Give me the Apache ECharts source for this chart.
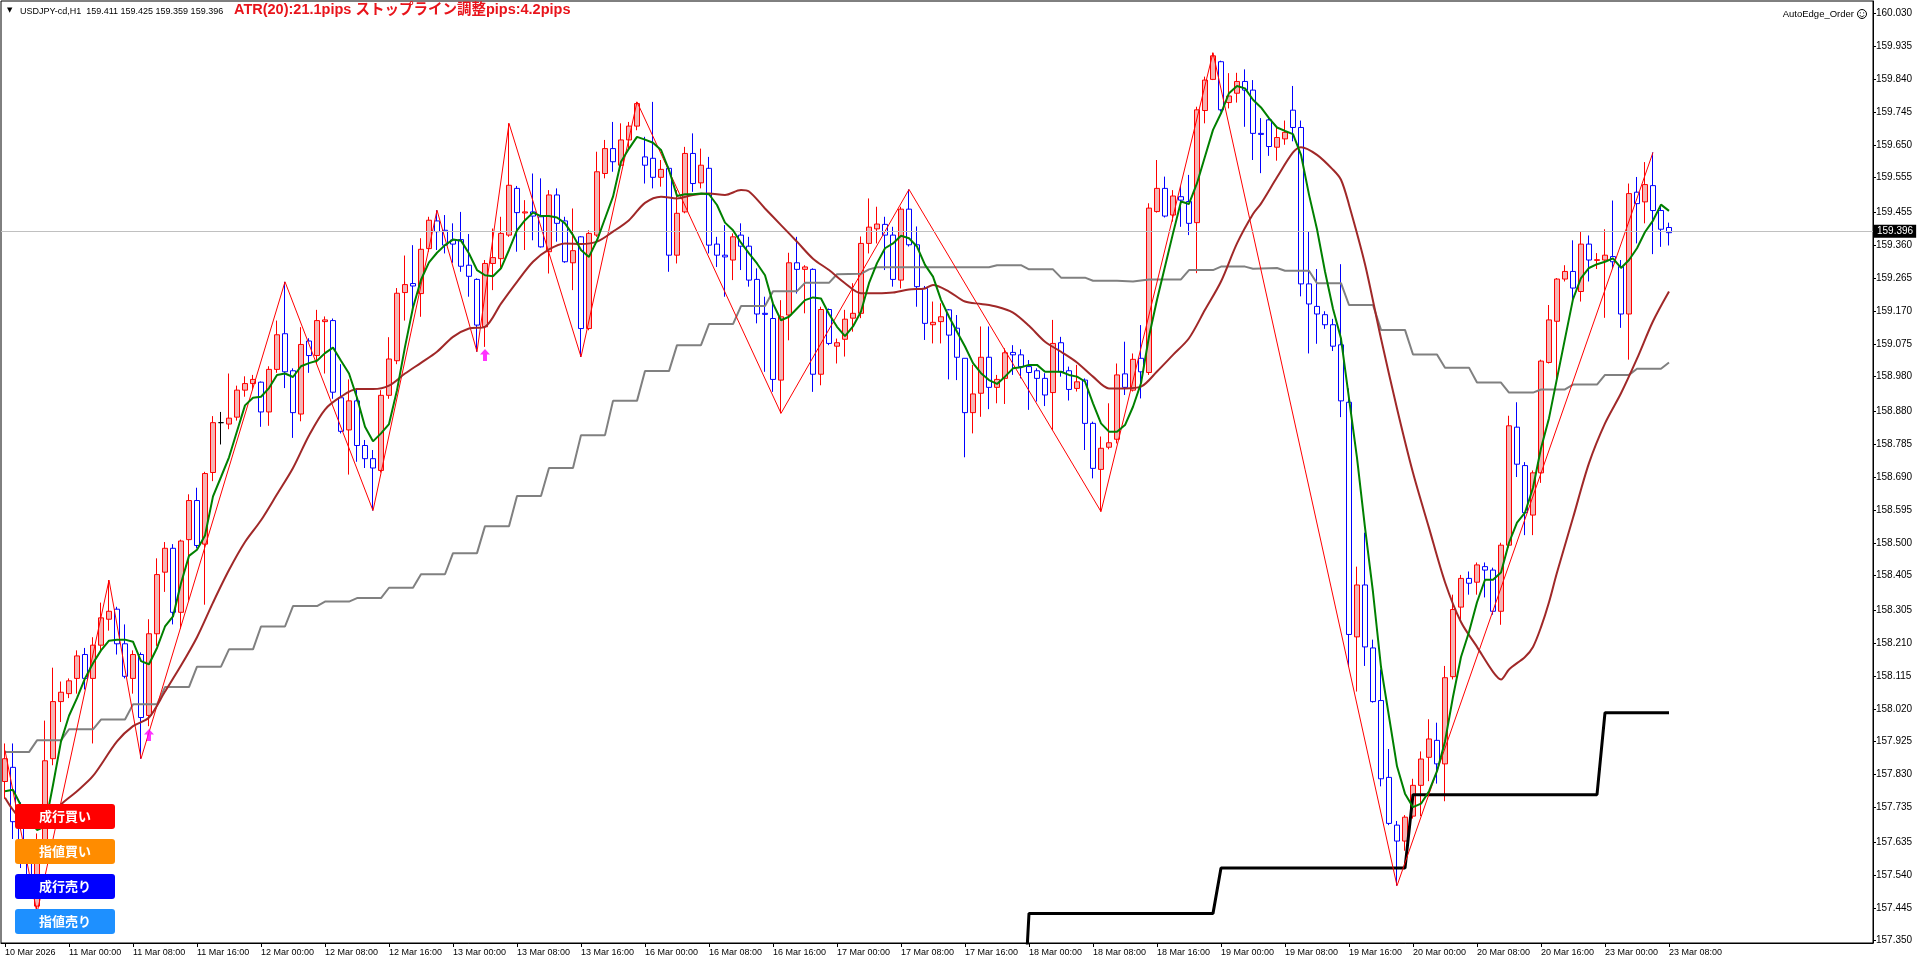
<!DOCTYPE html>
<html>
<head>
<meta charset="utf-8">
<script src="https://cdn.jsdelivr.net/npm/echarts@6/dist/echarts.min.js"></script>
<style>
  html, body { margin: 0; padding: 0; background: #fff; }
  #chart { width: 1920px; height: 967px; }
</style>
</head>
<body>
<div id="chart"></div>
<script>
// time axis labels, one every 8 bars (H1)
const timeLabels = ['10 Mar 2026','11 Mar 00:00','11 Mar 08:00','11 Mar 16:00','12 Mar 00:00','12 Mar 08:00','12 Mar 16:00',
  '13 Mar 00:00','13 Mar 08:00','13 Mar 16:00','16 Mar 00:00','16 Mar 08:00','16 Mar 16:00','17 Mar 00:00','17 Mar 08:00',
  '17 Mar 16:00','18 Mar 00:00','18 Mar 08:00','18 Mar 16:00','19 Mar 00:00','19 Mar 08:00','19 Mar 16:00','20 Mar 00:00',
  '20 Mar 08:00','20 Mar 16:00','23 Mar 00:00','23 Mar 08:00'];

const yTicks = [157.350,157.445,157.540,157.635,157.735,157.830,157.925,158.020,158.115,158.210,158.305,158.405,158.500,
  158.595,158.690,158.785,158.880,158.980,159.075,159.170,159.265,159.360,159.455,159.555,159.650,159.745,159.840,159.935,160.030];

const opens = [
  157.810,157.851,157.694,157.600,157.450,157.620,157.876,158.041,158.064,158.108,
  158.177,158.108,158.204,158.279,158.308,158.208,158.108,158.177,158.001,158.237,
  158.415,158.484,158.299,158.509,158.622,158.496,158.703,158.847,158.843,158.863,
  158.941,158.960,158.964,158.878,159.001,159.104,158.997,158.872,159.083,159.041,
  159.139,159.142,158.919,158.826,158.910,158.781,158.743,158.709,158.926,159.026,
  159.223,159.249,159.220,159.350,159.430,159.403,159.375,159.376,159.302,159.261,
  159.124,159.307,159.321,159.389,159.524,159.453,159.456,159.442,159.341,159.505,
  159.430,159.309,159.384,159.119,159.389,159.567,159.639,159.591,159.664,159.704,
  159.615,159.611,159.556,159.582,159.331,159.456,159.625,159.540,159.582,159.363,
  159.331,159.317,159.389,159.357,159.261,159.163,159.148,158.970,159.158,159.309,
  159.290,159.290,158.987,159.174,159.068,159.088,159.149,159.163,159.365,159.407,
  159.420,159.389,159.259,159.464,159.361,159.235,159.130,159.139,159.173,159.120,
  159.033,158.876,158.932,159.036,158.949,158.975,159.050,159.043,159.009,158.997,
  158.975,158.934,159.078,158.997,158.946,158.970,158.845,158.712,158.776,158.799,
  158.988,158.941,159.033,158.992,159.457,159.524,159.447,159.500,159.486,159.425,
  159.749,159.839,159.890,159.772,159.799,159.833,159.808,159.683,159.722,159.643,
  159.667,159.750,159.700,159.248,159.183,159.159,159.130,159.072,158.906,158.228,
  158.378,158.196,158.044,157.822,157.684,157.638,157.710,157.799,157.880,157.929,
  157.861,158.113,158.314,158.397,158.386,158.431,158.421,158.302,158.493,158.834,
  158.723,158.580,158.702,159.021,159.140,159.262,159.284,159.226,159.363,159.316,
  159.317,159.327,159.298,159.161,159.513,159.485,159.532,159.460,159.411];

const highs = [
  157.920,157.920,157.750,157.640,157.660,157.986,158.139,158.099,158.108,158.189,
  158.196,158.227,158.327,158.392,158.315,158.264,158.189,158.183,158.279,158.455,
  158.502,158.496,158.509,158.640,158.659,158.705,158.866,158.878,158.989,158.954,
  158.981,158.985,158.966,159.010,159.142,159.254,159.004,159.123,159.091,159.173,
  159.154,159.148,159.016,158.972,158.947,158.797,158.768,158.941,159.094,159.236,
  159.330,159.360,159.380,159.442,159.461,159.447,159.423,159.456,159.392,159.264,
  159.317,159.408,159.442,159.712,159.531,159.490,159.567,159.553,159.519,159.524,
  159.442,159.466,159.386,159.403,159.630,159.664,159.716,159.712,159.716,159.774,
  159.673,159.774,159.606,159.587,159.519,159.644,159.683,159.639,159.615,159.384,
  159.418,159.394,159.423,159.384,159.293,159.211,159.191,159.201,159.338,159.384,
  159.302,159.293,159.182,159.177,159.090,159.173,159.250,159.385,159.495,159.471,
  159.442,159.413,159.471,159.521,159.414,159.242,159.197,159.192,159.175,159.158,
  159.033,159.014,159.125,159.125,158.985,159.062,159.071,159.059,159.028,159.004,
  158.990,159.144,159.095,159.009,159.014,158.975,158.850,158.807,158.903,159.018,
  159.081,159.047,159.129,159.481,159.606,159.558,159.519,159.531,159.563,159.760,
  159.847,159.916,159.893,159.857,159.858,159.868,159.837,159.727,159.730,159.700,
  159.720,159.820,159.720,159.398,159.291,159.169,159.147,159.305,158.946,158.431,
  158.529,158.220,158.134,157.904,157.696,157.713,157.818,157.897,157.990,157.980,
  158.144,158.350,158.407,158.417,158.443,158.443,158.428,158.500,158.867,158.906,
  158.733,158.709,159.029,159.187,159.265,159.302,159.374,159.398,159.388,159.337,
  159.406,159.489,159.317,159.538,159.557,159.600,159.628,159.470,159.425];

const lows = [
  157.760,157.644,157.560,157.480,157.430,157.600,157.857,157.982,158.051,158.064,
  158.076,157.920,158.189,158.246,158.177,158.108,158.064,157.876,157.970,158.202,
  158.358,158.264,158.252,158.333,158.484,158.321,158.678,158.784,158.828,158.853,
  158.922,158.941,158.835,158.838,158.991,158.947,158.803,158.851,158.991,159.016,
  158.989,158.916,158.816,158.697,158.734,158.716,158.593,158.703,158.916,159.016,
  159.142,159.169,159.153,159.341,159.346,159.336,159.309,159.283,159.211,159.052,
  159.066,159.230,159.288,159.384,159.341,159.346,159.374,159.353,159.278,159.370,
  159.309,159.230,159.037,159.114,159.384,159.553,159.572,159.586,159.639,159.692,
  159.538,159.524,159.529,159.283,159.307,159.452,159.514,159.524,159.336,159.297,
  159.211,159.259,159.288,159.240,159.134,158.994,158.936,158.874,159.085,159.220,
  159.163,158.936,158.955,159.071,159.018,159.038,159.110,159.149,159.336,159.365,
  159.288,159.240,159.235,159.356,159.182,159.086,159.076,159.076,158.972,158.970,
  158.747,158.816,158.864,158.886,158.903,158.901,158.985,158.975,158.884,158.908,
  158.895,158.826,158.980,158.911,158.937,158.768,158.686,158.590,158.770,158.787,
  158.927,158.937,158.917,158.985,159.454,159.440,159.428,159.413,159.389,159.279,
  159.712,159.837,159.746,159.755,159.772,159.702,159.606,159.568,159.618,159.604,
  159.650,159.660,159.212,159.047,159.075,159.118,159.054,158.863,158.141,158.070,
  158.144,158.038,157.796,157.684,157.509,157.610,157.703,157.710,157.811,157.804,
  157.753,158.105,158.278,158.350,158.350,158.342,158.292,158.263,158.486,158.690,
  158.522,158.522,158.673,159.018,158.975,159.255,159.197,159.197,159.255,159.291,
  159.150,159.291,159.121,159.029,159.365,159.423,159.334,159.355,159.359];

const closes = [
  157.876,157.694,157.600,157.520,157.620,157.870,158.041,158.068,158.101,158.173,
  158.108,158.204,158.283,158.302,158.208,158.114,158.177,157.995,158.237,158.408,
  158.484,158.299,158.505,158.622,158.492,158.700,158.847,158.847,158.860,158.941,
  158.960,158.972,158.878,159.001,159.101,158.994,158.876,159.073,159.041,159.142,
  159.144,158.935,158.822,158.910,158.781,158.743,158.716,158.926,159.031,159.221,
  159.246,159.242,159.348,159.432,159.399,159.360,159.363,159.299,159.270,159.129,
  159.307,159.324,159.394,159.533,159.454,159.456,159.444,159.355,159.505,159.423,
  159.312,159.344,159.119,159.394,159.572,159.639,159.601,159.664,159.704,159.769,
  159.591,159.556,159.579,159.331,159.452,159.625,159.538,159.591,159.360,159.331,
  159.326,159.384,159.357,159.259,159.161,159.160,158.972,159.153,159.309,159.290,
  159.297,158.987,159.174,159.076,159.078,159.146,159.163,159.365,159.412,159.421,
  159.389,159.261,159.464,159.361,159.240,159.134,159.137,159.153,159.100,159.036,
  158.876,158.930,159.036,158.949,158.972,159.049,159.043,159.009,158.992,158.975,
  158.927,159.076,158.994,158.943,158.965,158.845,158.715,158.773,158.789,158.985,
  158.949,159.030,158.994,159.467,159.524,159.444,159.502,159.490,159.423,159.751,
  159.837,159.907,159.751,159.791,159.833,159.808,159.683,159.680,159.645,159.671,
  159.686,159.700,159.248,159.190,159.161,159.130,159.068,158.910,158.235,158.378,
  158.199,158.041,157.818,157.689,157.638,157.707,157.799,157.875,157.933,157.861,
  158.110,158.307,158.397,158.383,158.436,158.421,158.302,158.493,158.838,158.727,
  158.587,158.702,159.025,159.144,159.262,159.284,159.236,159.363,159.317,159.318,
  159.331,159.312,159.161,159.509,159.480,159.535,159.460,159.406,159.396];

// fast MA (green), one value per bar
const fastMA = [
  157.782,157.786,157.740,157.700,157.670,157.680,157.800,157.926,158.000,158.051,
  158.108,158.152,158.189,158.217,158.220,158.220,158.214,158.158,158.149,158.196,
  158.258,158.287,158.383,158.462,158.480,158.521,158.634,158.690,158.747,158.822,
  158.897,158.919,158.922,158.947,158.985,158.989,158.979,159.010,159.019,159.026,
  159.048,159.064,159.026,158.989,158.919,158.835,158.793,158.816,158.843,158.941,
  159.066,159.180,159.260,159.310,159.338,159.360,159.376,159.373,159.336,159.288,
  159.273,159.270,159.293,159.346,159.403,159.432,159.454,159.444,159.444,159.440,
  159.423,159.389,159.346,159.326,159.374,159.437,159.500,159.601,159.639,159.673,
  159.665,159.656,159.635,159.577,159.502,159.507,159.507,159.509,159.507,159.476,
  159.425,159.403,159.367,159.336,159.307,159.273,159.191,159.143,159.153,159.177,
  159.201,159.209,159.206,159.161,159.124,159.097,159.125,159.168,159.250,159.308,
  159.351,159.365,159.387,159.380,159.356,159.303,159.269,159.202,159.153,159.110,
  159.067,159.019,158.990,158.970,158.959,158.980,159.004,159.007,159.014,159.014,
  158.994,158.994,158.994,158.985,158.980,158.966,158.903,158.845,158.821,158.821,
  158.840,158.893,158.961,159.096,159.202,159.298,159.394,159.486,159.479,159.539,
  159.616,159.693,159.741,159.799,159.820,159.813,159.780,159.758,159.727,159.700,
  159.690,159.681,159.621,159.506,159.406,159.284,159.176,159.090,158.917,158.745,
  158.544,158.357,158.141,157.998,157.854,157.775,157.736,157.746,157.782,157.840,
  157.926,158.055,158.170,158.242,158.328,158.393,158.393,158.414,158.500,158.558,
  158.587,158.659,158.773,158.860,158.975,159.090,159.204,159.265,159.294,159.305,
  159.312,159.322,159.294,159.317,159.351,159.398,159.431,159.477,159.459];

// slow MA (dark red), [bar, price]
const slowMA = [[0,157.763],[1,157.728],[3,157.680],[5,157.690],[7,157.744],[9,157.782],[11,157.826],[14,157.926],
  [16,157.970],[18,157.995],[20,158.070],[22,158.145],[24,158.227],[26,158.327],[28,158.421],[30,158.502],[32,158.565],
  [34,158.640],[36,158.716],[38,158.810],[40,158.885],[42,158.922],[44,158.944],[46,158.944],[48,158.954],[50,158.989],
  [52,159.020],[54,159.052],[56,159.095],[58,159.119],[60,159.124],[62,159.191],[64,159.254],[66,159.312],[68,159.348],
  [70,159.365],[72,159.363],[74,159.370],[76,159.399],[78,159.432],[80,159.482],[82,159.500],[84,159.495],[86,159.505],
  [88,159.509],[90,159.505],[92,159.519],[93,159.515],[95,159.466],[97,159.418],[99,159.370],[101,159.321],[103,159.288],
  [105,159.250],[107,159.221],[109,159.221],[111,159.223],[113,159.232],[115,159.235],[116,159.245],[118,159.226],
  [120,159.197],[122,159.190],[124,159.182],[126,159.165],[128,159.127],[130,159.081],[132,159.052],[134,159.021],
  [136,158.980],[138,158.946],[140,158.946],[142,158.951],[144,158.995],[146,159.043],[148,159.091],[150,159.173],
  [152,159.255],[154,159.365],[156,159.450],[157,159.480],[159,159.556],[161,159.628],[162,159.643],[164,159.621],
  [166,159.578],[167,159.549],[168,159.477],[170,159.305],[172,159.090],[174,158.888],[176,158.702],[178,158.543],
  [180,158.386],[182,158.271],[184,158.199],[186,158.127],[187,158.105],[188,158.134],[190,158.170],[191,158.199],
  [192,158.256],[193,158.328],[194,158.414],[196,158.572],[198,158.730],[200,158.845],[202,158.932],[204,159.032],
  [206,159.140],[208,159.226]];

// higher timeframe MA (gray steps), [bar, price]
const grayLine = [[0,157.895],[3,157.895],[4,157.929],[7,157.929],[8,157.961],[11,157.961],[12,157.989],[15,157.989],
  [16,158.033],[19,158.033],[20,158.083],[23,158.083],[24,158.142],[27,158.142],[28,158.192],[31,158.192],[32,158.258],
  [35,158.258],[36,158.317],[39,158.317],[40,158.330],[43,158.330],[44,158.340],[47,158.340],[48,158.370],[51,158.370],
  [52,158.409],[55,158.409],[56,158.470],[59,158.470],[60,158.548],[63,158.548],[64,158.635],[67,158.635],[68,158.716],
  [71,158.716],[72,158.811],[75,158.811],[76,158.910],[79,158.910],[80,158.996],[83,158.996],[84,159.071],[87,159.071],
  [88,159.132],[91,159.132],[92,159.184],[95,159.184],[96,159.227],[99,159.227],[100,159.251],[103,159.251],[104,159.276],
  [107,159.277],[108,159.290],[109,159.296],[123,159.296],[124,159.302],[127,159.302],[128,159.290],[131,159.290],
  [132,159.266],[135,159.266],[136,159.257],[139,159.257],[141,159.255],[143,159.261],[147,159.261],[148,159.288],
  [151,159.288],[152,159.298],[155,159.298],[156,159.292],[159,159.294],[160,159.286],[163,159.286],[164,159.250],
  [167,159.250],[168,159.187],[171,159.187],[172,159.115],[175,159.115],[176,159.044],[179,159.044],[180,159.006],
  [183,159.006],[184,158.963],[187,158.963],[188,158.934],[191,158.934],[192,158.943],[195,158.943],[196,158.957],
  [199,158.957],[200,158.985],[203,158.985],[204,159.003],[207,159.003],[208,159.021]];

// stop line (black steps), [bar, price]
const stopLine = [[127,157.000],[128,157.429],[151,157.429],[152,157.560],[175,157.560],[176,157.772],[199,157.772],
  [200,158.009],[208,158.009]];

// zigzag swing points, [bar, price]
const zigzag = [[0,157.900],[4,157.430],[13,158.392],[17,157.876],[35,159.254],[46,158.593],[54,159.461],[59,159.052],
  [63,159.712],[72,159.037],[79,159.774],[97,158.874],[113,159.521],[137,158.590],[151,159.916],[174,157.509],[206,159.628]];

// buy signal arrows, [bar, price]
const arrows = [[18,157.962],[60,159.060]];

const lastPrice = 159.396;

const slotCount = 234;
const slots = [];
for (let i = 0; i < slotCount; i++) slots.push(i);
const candles = opens.map((o, i) => [o, closes[i], lows[i], highs[i]]);
const showTick = (i) => i % 8 === 0 && i <= 208;

const buttons = [
  { text: '成行買い', color: '#ff0000', top: 804 },
  { text: '指値買い', color: '#ff8c00', top: 839 },
  { text: '成行売り', color: '#0000ff', top: 874 },
  { text: '指値売り', color: '#1e90ff', top: 909 }
];

const chart = echarts.init(document.getElementById('chart'));

const graphics = [
  { type: 'text', z: 100, style: { x: 7, y: 7, text: '▼', font: '7px "DejaVu Sans"', fill: '#000' } },
  { type: 'text', z: 100, style: { x: 20, y: 7, text: 'USDJPY-cd,H1  159.411 159.425 159.359 159.396', font: '9px "Liberation Sans"', fill: '#000' } },
  { type: 'text', z: 100, style: { x: 234, y: 3, text: 'ATR(20):21.1pips ストップライン調整pips:4.2pips', font: 'bold 14.5px "Liberation Sans", "Noto Sans CJK JP"', fill: '#e8141b' } },
  { type: 'text', z: 100, style: { x: 1854, y: 9, text: 'AutoEdge_Order', align: 'right', font: '9.5px "Liberation Sans"', fill: '#000' } },
  { type: 'circle', z: 100, shape: { cx: 1862, cy: 14, r: 4.5 }, style: { fill: 'none', stroke: '#000', lineWidth: 1 } },
  { type: 'circle', z: 100, shape: { cx: 1860.3, cy: 12.8, r: 0.6 }, style: { fill: '#000' } },
  { type: 'circle', z: 100, shape: { cx: 1863.7, cy: 12.8, r: 0.6 }, style: { fill: '#000' } },
  { type: 'arc', z: 100, shape: { cx: 1862, cy: 14.5, r: 2.2, startAngle: 0.3, endAngle: Math.PI - 0.3 }, style: { stroke: '#000', fill: 'none', lineWidth: 0.8 } }
];
buttons.forEach(b => {
  graphics.push({ type: 'rect', z: 100, shape: { x: 15, y: b.top, width: 100, height: 25, r: 3 }, style: { fill: b.color } });
  graphics.push({ type: 'text', z: 101, style: { x: 65, y: b.top + 12.5, text: b.text, align: 'center', verticalAlign: 'middle',
    font: 'bold 13px "Noto Sans CJK JP"', fill: '#fff' } });
});

chart.setOption({
  animation: false,
  backgroundColor: '#fff',
  grid: { left: 1, right: 47, top: 1, bottom: 24, show: true, borderColor: '#000', borderWidth: 1, backgroundColor: '#fff' },
  xAxis: {
    type: 'category',
    data: slots,
    boundaryGap: true,
    axisLine: { show: true, lineStyle: { color: '#000', width: 1 } },
    axisTick: { show: true, alignWithLabel: true, interval: showTick, length: 4, lineStyle: { color: '#000' } },
    axisLabel: {
      interval: showTick,
      formatter: (v, i) => timeLabels[i / 8] || '',
      align: 'left', margin: 5, color: '#000', fontSize: 9, fontFamily: 'Liberation Sans'
    },
    splitLine: { show: false }
  },
  yAxis: {
    type: 'value',
    position: 'right',
    min: 157.3434,
    max: 160.0655,
    axisLine: { show: true, lineStyle: { color: '#000', width: 1 } },
    axisTick: { show: true, length: 3, customValues: yTicks, lineStyle: { color: '#000' } },
    axisLabel: { customValues: yTicks, formatter: v => v.toFixed(3), color: '#000', fontSize: 10, fontFamily: 'Liberation Sans', margin: 3 },
    splitLine: { show: false }
  },
  graphic: { elements: graphics, z: 100 },
  series: [
    {
      type: 'candlestick',
      data: candles,
      barWidth: 5,
      z: 2,
      itemStyle: {
        color: '#f5b4b4', color0: '#ffffff',
        borderColor: '#ff0000', borderColor0: '#0000ff', borderColorDoji: '#000000',
        borderWidth: 1
      },
      markLine: {
        silent: true, symbol: 'none', animation: false,
        data: [{ yAxis: lastPrice }],
        lineStyle: { color: '#c0c0c0', width: 1, type: 'solid' },
        label: {
          show: true, position: 'end', formatter: lastPrice.toFixed(3), distance: 1,
          backgroundColor: '#000', color: '#fff', fontSize: 10, fontFamily: 'Liberation Sans', padding: [2, 3, 1, 3]
        }
      }
    },
    { type: 'line', data: grayLine, symbol: 'none', z: 3, lineStyle: { color: '#808080', width: 2 } },
    { type: 'line', data: stopLine, symbol: 'none', z: 3, lineStyle: { color: '#000000', width: 3 } },
    { type: 'line', data: zigzag, symbol: 'none', z: 4, lineStyle: { color: '#ff0000', width: 1 } },
    { type: 'line', data: slowMA, symbol: 'none', smooth: 0.3, z: 5, lineStyle: { color: '#a02828', width: 2 } },
    { type: 'line', data: fastMA, symbol: 'none', z: 6, lineStyle: { color: '#008000', width: 2 } },
    {
      type: 'scatter', data: arrows, z: 7,
      symbol: 'path://M5,0L10,6L7,6L7,13L3,13L3,6L0,6Z', symbolSize: [10, 12], symbolOffset: [0, '50%'],
      itemStyle: { color: '#ff00ff' }
    }
  ]
});
</script>
</body>
</html>
